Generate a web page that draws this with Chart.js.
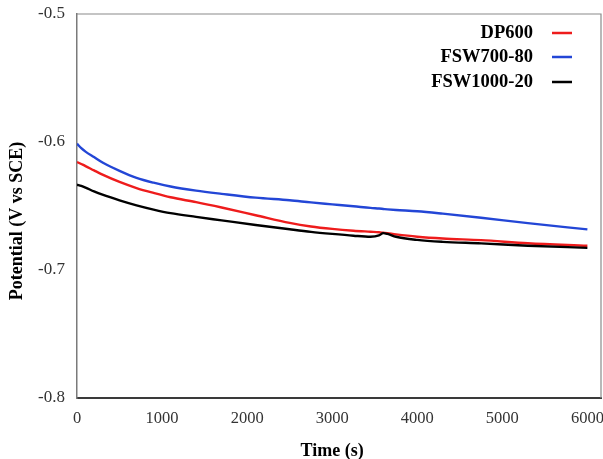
<!DOCTYPE html>
<html>
<head>
<meta charset="utf-8">
<script src="https://cdn.jsdelivr.net/npm/chart.js@4"></script>
<style>
  html, body { margin: 0; padding: 0; background: #fff; }
  #wrap { width: 603px; height: 459px; }
</style>
</head>
<body>
<div id="wrap"><canvas id="potChart" width="603" height="459"></canvas></div>
<script>
// time axis (s)
const times = [0, 50, 100, 200, 300, 500, 700, 900, 1100, 1400, 1700, 2100, 2500, 2750, 3000, 3250, 3450, 3550, 3600, 3650, 3750, 4000, 4300, 4750, 5300, 6000];

// potential readings (V vs SCE)
const dp600 = [-0.6156, -0.6172, -0.6188, -0.6222, -0.6255, -0.6312, -0.6360, -0.6398, -0.6432, -0.6470, -0.6512, -0.6572, -0.6632, -0.6660, -0.6679, -0.6693, -0.6701, -0.6705, -0.6709, -0.6713, -0.6722, -0.6740, -0.6754, -0.6767, -0.6791, -0.6811];
const fsw70080 = [-0.6013, -0.6048, -0.6075, -0.6118, -0.6160, -0.6225, -0.6280, -0.6318, -0.6348, -0.6380, -0.6405, -0.6435, -0.6455, -0.6472, -0.6487, -0.6502, -0.6515, -0.6520, -0.6523, -0.6526, -0.6531, -0.6541, -0.6560, -0.6592, -0.6634, -0.6683];
const fsw100020 = [-0.6333, -0.6343, -0.6356, -0.6386, -0.6412, -0.6456, -0.6495, -0.6528, -0.6556, -0.6585, -0.6612, -0.6648, -0.6682, -0.6702, -0.6718, -0.6732, -0.6740, -0.6730, -0.6712, -0.6718, -0.6740, -0.6765, -0.6780, -0.6792, -0.6810, -0.6827];

const seriesNames = ['DP600', 'FSW700-80', 'FSW1000-20'];
const seriesColors = ['#ee1c1c', '#2346d6', '#000000'];

const yTicks = [-0.8, -0.7, -0.6, -0.5];
const xTicks = [0, 1000, 2000, 3000, 4000, 5000, 6000];
const xTitle = 'Time (s)';
const yTitle = 'Potential (V vs SCE)';

function toPoints(vals) {
    return vals.map((v, i) => ({ x: times[i], y: v }));
}

const serif = "'Liberation Serif', 'Times New Roman', serif";

// frame (top and right edges), axis titles and the legend at the top right
const framePlugin = {
    id: 'frame',
    afterDraw(chart) {
        const { ctx, chartArea, scales } = chart;
        ctx.save();
        ctx.strokeStyle = '#8a8a8a';
        ctx.lineWidth = 1.2;
        ctx.beginPath();
        ctx.moveTo(chartArea.left, chartArea.top);
        ctx.lineTo(chartArea.right, chartArea.top);
        ctx.lineTo(chartArea.right, chartArea.bottom);
        ctx.stroke();

        // axis titles: centred on the 0-6000 span, like the original
        ctx.fillStyle = '#000';
        ctx.font = 'bold 18px ' + serif;
        ctx.textAlign = 'center';
        ctx.textBaseline = 'middle';
        const xMid = (scales.x.getPixelForValue(0) + scales.x.getPixelForValue(6000)) / 2;
        ctx.fillText(xTitle, xMid, 451);
        ctx.save();
        ctx.translate(17, 221);
        ctx.rotate(-Math.PI / 2);
        ctx.fillText(yTitle, 0, 0);
        ctx.restore();

        ctx.font = 'bold 18.5px ' + serif;
        ctx.textAlign = 'right';
        const rows = [33, 57, 82];
        seriesNames.forEach((name, i) => {
            ctx.fillStyle = '#000';
            ctx.fillText(name, 533, rows[i]);
            ctx.strokeStyle = seriesColors[i];
            ctx.lineWidth = 2.5;
            ctx.beginPath();
            ctx.moveTo(552, rows[i]);
            ctx.lineTo(572, rows[i]);
            ctx.stroke();
        });
        ctx.restore();
    }
};

const ctx = document.getElementById('potChart').getContext('2d');

new Chart(ctx, {
    type: 'line',
    data: {
        datasets: [
            {
                label: seriesNames[0],
                data: toPoints(dp600),
                borderColor: seriesColors[0],
                order: 2
            },
            {
                label: seriesNames[1],
                data: toPoints(fsw70080),
                borderColor: seriesColors[1],
                order: 1
            },
            {
                label: seriesNames[2],
                data: toPoints(fsw100020),
                borderColor: seriesColors[2],
                order: 0
            }
        ]
    },
    options: {
        responsive: false,
        animation: false,
        layout: { padding: { top: 14, right: 2, left: 0, bottom: 0 } },
        elements: {
            point: { radius: 0 },
            line: { borderWidth: 2.4, cubicInterpolationMode: 'monotone', fill: false }
        },
        plugins: {
            legend: { display: false },
            tooltip: { enabled: false }
        },
        scales: {
            x: {
                type: 'linear',
                min: 0,
                max: 6160,
                afterBuildTicks: scale => { scale.ticks = xTicks.map(v => ({ value: v })); },
                afterFit: scale => {
                    scale.height = 61;
                    scale.paddingLeft = 0;
                    scale.paddingRight = 0;
                },
                ticks: {
                    padding: 11,
                    color: '#333',
                    font: { family: serif, size: 16.5 },
                    maxRotation: 0,
                    callback: v => String(v)
                },
                grid: { display: false, drawTicks: false },
                border: { display: true, color: '#3a3a3a', width: 2 }
            },
            y: {
                min: -0.8,
                max: -0.5,
                afterBuildTicks: scale => { scale.ticks = yTicks.map(v => ({ value: v })); },
                afterFit: scale => {
                    scale.width = 77;
                    scale.paddingTop = 0;
                    scale.paddingBottom = 0;
                },
                ticks: {
                    padding: 12,
                    color: '#333',
                    font: { family: serif, size: 17 },
                    callback: v => v.toFixed(1)
                },
                grid: { display: false, drawTicks: false },
                border: { display: true, color: '#7a7a7a', width: 1.5 }
            }
        }
    },
    plugins: [framePlugin]
});
</script>
</body>
</html>
